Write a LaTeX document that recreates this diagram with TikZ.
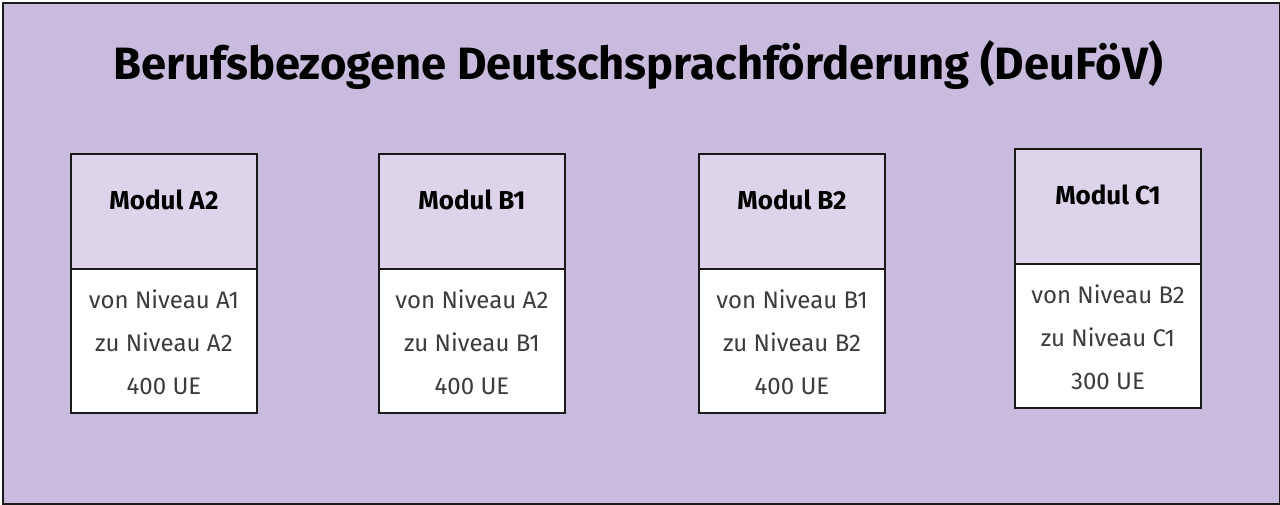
\documentclass[tikz,border=0pt]{standalone}
\usepackage{fontspec}
\setmainfont{Fira Sans}
\definecolor{bgl}{RGB}{201,187,222}
\definecolor{hdl}{RGB}{221,211,234}
\definecolor{txg}{RGB}{60,60,60}
\begin{document}
\begin{tikzpicture}[x=1pt,y=-1pt,
  modhead/.style={draw=black!90,line width=2pt,fill=hdl,minimum width=186pt,minimum height=115pt,anchor=north,inner sep=0pt},
  modbody/.style={draw=black!90,line width=2pt,fill=white,minimum width=186pt,minimum height=144pt,anchor=north,inner sep=0pt},
  headtxt/.style={font=\fontsize{26}{26}\selectfont\bfseries,anchor=base,inner sep=0pt},
  bodytxt/.style={font=\fontsize{24}{24}\selectfont,text=txg,anchor=base,inner sep=0pt}]
\useasboundingbox (0,0) rectangle (1280,504);
\node[draw=black!90,line width=2pt,fill=bgl,minimum width=1277pt,minimum height=501pt,anchor=north west,inner sep=0pt] (frame) at (1.5,1.5) {};
\node[font=\fontsize{45.3}{45.3}\selectfont\bfseries,anchor=base,inner sep=0pt] (title) at (638,79) {Berufsbezogene Deutschsprachförderung (DeuFöV)};
% Module A2
\node[modbody] (ba) at (164,268) {};
\node[modhead] (ha) at (164,153) {};
\node[headtxt] (ta) at (164,209) {Modul A2};
\node[bodytxt] (la1) at (164,308) {von Niveau A1};
\node[bodytxt] (la2) at (164,351) {zu Niveau A2};
\node[bodytxt] (la3) at (164,394) {400 UE};
% Module B1
\node[modbody] (bb) at (472,268) {};
\node[modhead] (hb) at (472,153) {};
\node[headtxt] (tb) at (472,209) {Modul B1};
\node[bodytxt] (lb1) at (472,308) {von Niveau A2};
\node[bodytxt] (lb2) at (472,351) {zu Niveau B1};
\node[bodytxt] (lb3) at (472,394) {400 UE};
% Module B2
\node[modbody] (bc) at (792,268) {};
\node[modhead] (hc) at (792,153) {};
\node[headtxt] (tc) at (792,209) {Modul B2};
\node[bodytxt] (lc1) at (792,308) {von Niveau B1};
\node[bodytxt] (lc2) at (792,351) {zu Niveau B2};
\node[bodytxt] (lc3) at (792,394) {400 UE};
% Module C1
\node[modbody] (bd) at (1108,263) {};
\node[modhead] (hd) at (1108,148) {};
\node[headtxt] (td) at (1108,204) {Modul C1};
\node[bodytxt] (ld1) at (1108,303) {von Niveau B2};
\node[bodytxt] (ld2) at (1108,346) {zu Niveau C1};
\node[bodytxt] (ld3) at (1108,389) {300 UE};
\end{tikzpicture}
\end{document}
